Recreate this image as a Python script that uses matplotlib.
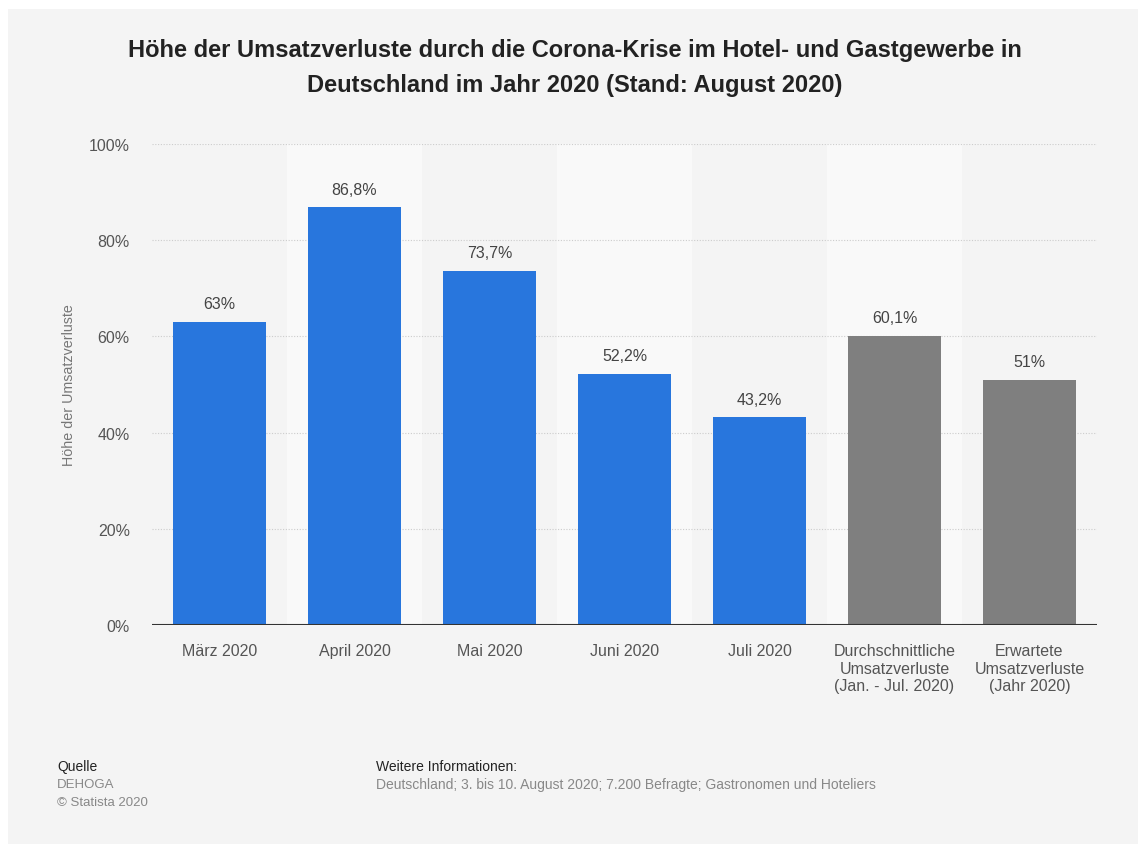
import matplotlib.pyplot as plt
from matplotlib.patches import Rectangle

categories = ["März 2020", "April 2020", "Mai 2020", "Juni 2020", "Juli 2020",
              "Durchschnittliche\nUmsatzverluste\n(Jan. - Jul. 2020)",
              "Erwartete\nUmsatzverluste\n(Jahr 2020)"]
values = [63, 86.8, 73.7, 52.2, 43.2, 60.1, 51]
labels = ["63%", "86,8%", "73,7%", "52,2%", "43,2%", "60,1%", "51%"]
colors = ["#2876dd"] * 5 + ["#7f7f7f"] * 2
yticks = [0, 20, 40, 60, 80, 100]

plt.rcParams['font.family'] = ['Liberation Sans', 'DejaVu Sans']

fig = plt.figure(figsize=(11.38, 8.45), dpi=100)
fig.patch.set_facecolor("white")
fig.patches.append(Rectangle((8 / 1138, -0.01), 1.1, 1.01 - 10 / 845, transform=fig.transFigure,
                             facecolor="#f4f4f4", edgecolor="none", zorder=-10))

ax = fig.add_axes([152 / 1138, 1 - 626 / 845, 945 / 1138, 481 / 845])
ax.set_facecolor("none")
x = range(len(values))

# helle Spalten hinter jeder zweiten Kategorie
for i in x:
    if i % 2 == 1:
        ax.axvspan(i - 0.5, i + 0.5, facecolor="#f9f9f9", edgecolor="none", zorder=0)

for t in yticks[1:]:
    ax.axhline(t, color="#cccccc", lw=0.8, ls=(0, (1, 1.5)), zorder=1)

ax.bar(x, values, width=0.69, color=colors, zorder=2)
for i, v in enumerate(values):
    ax.text(i, v + 2.2, labels[i], ha="center", va="bottom", fontsize=11.5, color="#444444")

ax.axhline(0, color="#333333", lw=1.5, zorder=3)
ax.set_xlim(-0.5, len(values) - 0.5)
ax.set_ylim(0, 100)
ax.set_yticks(yticks)
ax.set_yticklabels([f"{t}%" for t in yticks], fontsize=11.5, color="#555555")
ax.set_xticks(list(x))
ax.set_xticklabels(categories, fontsize=11.5, color="#555555", linespacing=1.22, va="top")
ax.tick_params(length=0, pad=13)
ax.tick_params(axis="y", pad=16)
for s in ax.spines.values():
    s.set_visible(False)
ax.set_ylabel("Höhe der Umsatzverluste", fontsize=10.3, color="#777777")
ax.yaxis.set_label_coords(-76 / 945, 0.5)

fig.text(575 / 1138, 1 - 68 / 845,
         "Höhe der Umsatzverluste durch die Corona-Krise im Hotel- und Gastgewerbe in\n"
         "Deutschland im Jahr 2020 (Stand: August 2020)",
         ha="center", va="center", fontsize=17, fontweight="bold", color="#222222",
         linespacing=1.65)

fig.text(57 / 1138, 1 - 767 / 845, "Quelle", fontsize=10, color="#222222", va="center")
fig.text(57 / 1138, 1 - 785 / 845, "DEHOGA", fontsize=9.5, color="#888888", va="center")
fig.text(57 / 1138, 1 - 803 / 845, "© Statista 2020", fontsize=9.5, color="#888888", va="center")
fig.text(376 / 1138, 1 - 767 / 845, "Weitere Informationen:", fontsize=10, color="#222222", va="center")
fig.text(376 / 1138, 1 - 785 / 845,
         "Deutschland; 3. bis 10. August 2020; 7.200 Befragte; Gastronomen und Hoteliers",
         fontsize=10, color="#888888", va="center")

fig.savefig("out.png", dpi=100)
